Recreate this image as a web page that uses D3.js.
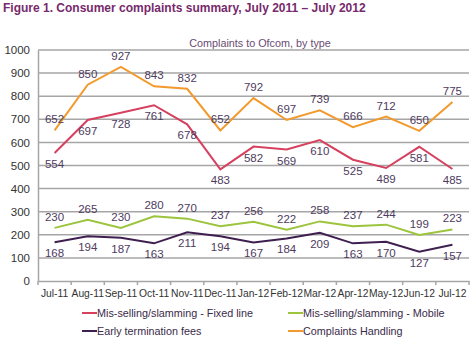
<!DOCTYPE html>
<html>
<head>
<meta charset="utf-8">
<script src="https://cdn.jsdelivr.net/npm/d3@7"></script>
<style>
	body { margin: 0; background: #fff; }
	svg { font-family: Arial, "Liberation Sans", sans-serif; }
</style>
</head>
<body>
<svg id="chart" width="474" height="340"></svg>
<script>
// Months along the x axis
var months = ['Jul-11', 'Aug-11', 'Sep-11', 'Oct-11', 'Nov-11', 'Dec-11', 'Jan-12',
	'Feb-12', 'Mar-12', 'Apr-12', 'May-12', 'Jun-12', 'Jul-12'];

// Complaint counts per series
var fixedLine = [554, 697, 728, 761, 678, 483, 582, 569, 610, 525, 489, 581, 485];
var mobile = [230, 265, 230, 280, 270, 237, 256, 222, 258, 237, 244, 199, 223];
var earlyTermination = [168, 194, 187, 163, 211, 194, 167, 184, 209, 163, 170, 127, 157];
var complaintsHandling = [652, 850, 927, 843, 832, 652, 792, 697, 739, 666, 712, 650, 775];

var yTicks = [0, 100, 200, 300, 400, 500, 600, 700, 800, 900, 1000];

var series = [
	{ name: 'Mis-selling/slamming - Fixed line', values: fixedLine, color: '#d6415f', label: 'below' },
	{ name: 'Mis-selling/slamming - Mobile', values: mobile, color: '#9cc43c', label: 'above' },
	{ name: 'Early termination fees', values: earlyTermination, color: '#3e1f4f', label: 'below' },
	{ name: 'Complaints Handling', values: complaintsHandling, color: '#f29a2e', label: 'above' }
];

var svg = d3.select('#chart');
var margin = { left: 38, right: 5, top: 50, bottom: 59 };
var width = 474, height = 340;

var x = d3.scaleBand()
	.domain(months)
	.range([margin.left, width - margin.right]);

var y = d3.scaleLinear()
	.domain([0, 1000])
	.range([height - margin.bottom, margin.top]);

// Title
svg.append('text')
	.attr('x', 3)
	.attr('y', 12)
	.attr('fill', '#762a6c')
	.attr('font-size', 12)
	.attr('font-weight', 'bold')
	.text('Figure 1. Consumer complaints summary, July 2011 \u2013 July 2012');

svg.append('text')
	.attr('x', 260)
	.attr('y', 47)
	.attr('text-anchor', 'middle')
	.attr('fill', '#6b4a73')
	.attr('font-size', 10.8)
	.text('Complaints to Ofcom, by type');

// Gridlines
svg.append('g')
	.selectAll('line')
	.data(yTicks.filter(function(d) { return d > 0; }))
	.enter().append('line')
	.attr('x1', margin.left)
	.attr('x2', width - margin.right)
	.attr('y1', function(d) { return y(d); })
	.attr('y2', function(d) { return y(d); })
	.attr('stroke', '#a6a6a6')
	.attr('stroke-width', 1.5);

// Y axis
var yAxis = svg.append('g')
	.attr('transform', 'translate(' + margin.left + ',0)')
	.call(d3.axisLeft(y).tickValues(yTicks).tickFormat(d3.format('d')).tickSize(0).tickPadding(8));
yAxis.select('.domain').attr('stroke', '#a6a6a6').attr('stroke-width', 1.5);
yAxis.selectAll('text').attr('font-size', 11.5).attr('fill', '#333').attr('font-family', null);

// X axis
var xAxis = svg.append('g')
	.attr('transform', 'translate(0,' + y(0) + ')')
	.call(d3.axisBottom(x).tickSize(0).tickPadding(9));
xAxis.select('.domain').attr('stroke', '#a6a6a6').attr('stroke-width', 1.5);
xAxis.selectAll('text').attr('font-size', 10.3).attr('fill', '#333').attr('font-family', null);

// Small ticks between categories
xAxis.selectAll('.sep')
	.data(months.concat(['end']))
	.enter().append('line')
	.attr('class', 'sep')
	.attr('x1', function(d, i) { return margin.left + i * x.step(); })
	.attr('x2', function(d, i) { return margin.left + i * x.step(); })
	.attr('y1', 0)
	.attr('y2', 4)
	.attr('stroke', '#a6a6a6')
	.attr('stroke-width', 1.5);

var line = d3.line()
	.x(function(d, i) { return x(months[i]) + x.bandwidth() / 2; })
	.y(function(d) { return y(d); });

// Lines
series.forEach(function(s) {
	svg.append('path')
		.datum(s.values)
		.attr('fill', 'none')
		.attr('stroke', s.color)
		.attr('stroke-width', 2)
		.attr('d', line);
});

// Data labels
series.forEach(function(s) {
	svg.append('g')
		.selectAll('text')
		.data(s.values)
		.enter().append('text')
		.attr('x', function(d, i) { return x(months[i]) + x.bandwidth() / 2; })
		.attr('y', function(d) { return y(d) + (s.label == 'above' ? -7 : 15); })
		.attr('text-anchor', 'middle')
		.attr('font-size', 11.5)
		.attr('fill', '#4e3b5e')
		.text(function(d) { return d; });
});

// Legend
var legendPos = [[82, 313], [288, 313], [82, 331], [288, 331]];
series.forEach(function(s, i) {
	var g = svg.append('g')
		.attr('transform', 'translate(' + legendPos[i][0] + ',' + legendPos[i][1] + ')');
	g.append('line')
		.attr('x1', 0).attr('x2', 15)
		.attr('y1', 0).attr('y2', 0)
		.attr('stroke', s.color)
		.attr('stroke-width', 2);
	g.append('text')
		.attr('x', 15)
		.attr('y', 4)
		.attr('font-size', 10.8)
		.attr('fill', '#3a2a4a')
		.text(s.name);
});
</script>
</body>
</html>
